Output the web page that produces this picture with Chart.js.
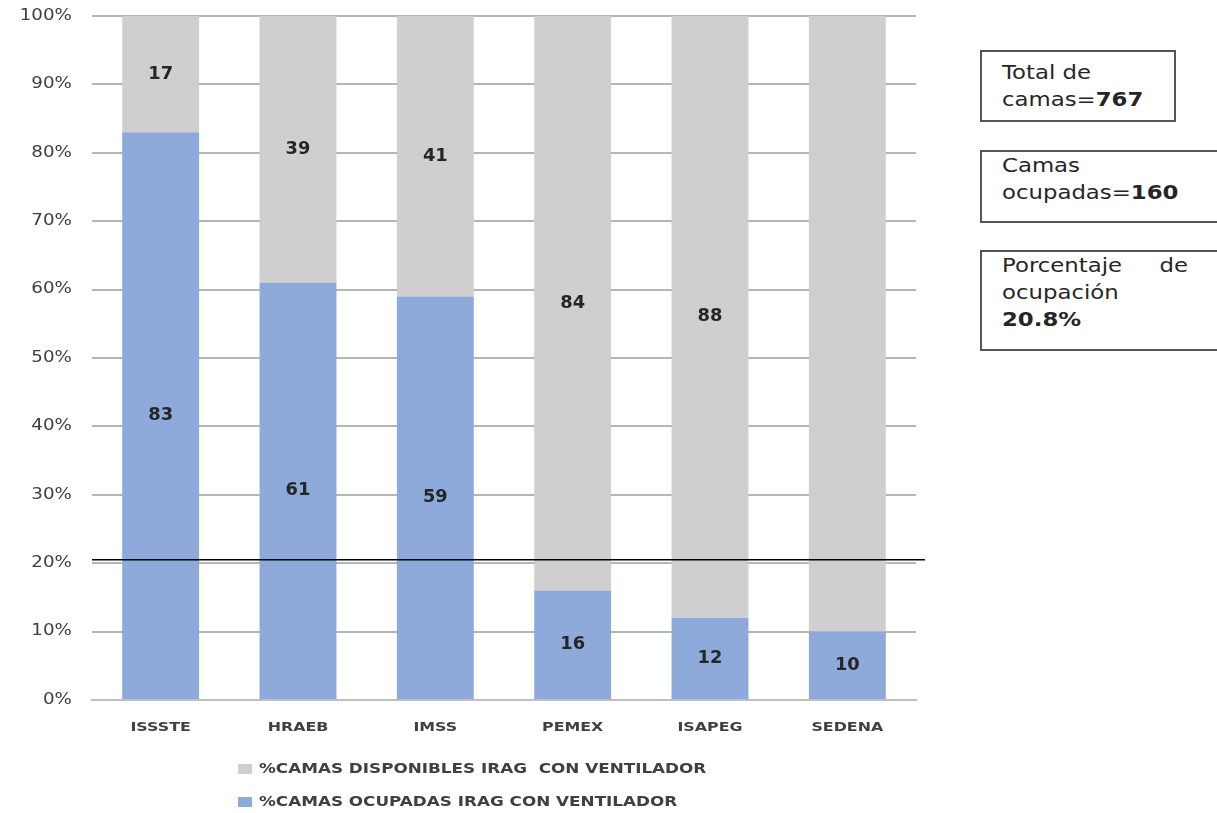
<!DOCTYPE html>
<html>
<head>
<meta charset="utf-8">
<script src="https://cdn.jsdelivr.net/npm/chart.js@4"></script>
<style>
  html, body { margin: 0; padding: 0; background: #fff; }
  #wrap { position: relative; width: 1217px; height: 813px; overflow: hidden; font-family: "DejaVu Sans", sans-serif; }
  canvas { position: absolute; left: 0; top: 0; }
  .box { position: absolute; border: 2px solid #555; background: #fff; color: #262626; font-size: 19px; line-height: 27px; padding: 0 0 0 20px; box-sizing: border-box; white-space: nowrap; }
  .wide { display: inline-block; transform: scaleX(1.2); transform-origin: 0 0; }
  .legend { position: absolute; left: 238px; font-size: 14px; line-height: 14px; color: #404040; font-weight: bold; white-space: nowrap; }
  .legend span.sw { display: inline-block; width: 14px; height: 10px; margin-right: 7px; vertical-align: -1px; }
</style>
</head>
<body>
<div id="wrap">
  <canvas id="chart" width="1217" height="813"></canvas>
  <div class="box" style="left:980px; top:50px; width:196px; height:72px; padding-top:7px;"><div class="wide">Total de<br>camas=<b>767</b></div></div>
  <div class="box" style="left:980px; top:150px; width:250px; height:73px;"><div class="wide">Camas<br>ocupadas=<b>160</b></div></div>
  <div class="box" style="left:980px; top:250px; width:250px; height:101px;">
    <div class="wide">
      <div style="width:155px; display:flex; justify-content:space-between;"><span>Porcentaje</span><span>de</span></div>
      ocupación<br><b>20.8%</b>
    </div>
  </div>
  <div class="legend" style="top:761px;"><span class="sw" style="background:#d0cece"></span><span class="wide">%CAMAS DISPONIBLES IRAG&nbsp; CON VENTILADOR</span></div>
  <div class="legend" style="top:794px;"><span class="sw" style="background:#8eaadb"></span><span class="wide">%CAMAS OCUPADAS IRAG CON VENTILADOR</span></div>
</div>
<script>
  const categories = ['ISSSTE', 'HRAEB', 'IMSS', 'PEMEX', 'ISAPEG', 'SEDENA'];
  const ocupadas = [83, 61, 59, 16, 12, 10];
  const disponibles = [17, 39, 41, 84, 88, 90];
  // SEDENA's grey segment carries no number in the original
  const disponiblesLabels = ['17', '39', '41', '84', '88', ''];
  const ocupadasLabels = ['83', '61', '59', '16', '12', '10'];
  const yTicks = [0, 10, 20, 30, 40, 50, 60, 70, 80, 90, 100];
  const occupancyLine = 20.5;

  const BLUE = '#8eaadb';
  const GREY = '#d0cece';
  const FONT = '"DejaVu Sans", sans-serif';
  const STRETCH = 1.22; // the source text is drawn wider than it is tall

  function wideText(ctx, text, x, y, align, sx) {
    ctx.save();
    ctx.translate(x, y);
    ctx.scale(sx, 1);
    ctx.textAlign = align;
    ctx.fillText(text, 0, 0);
    ctx.restore();
  }

  const axisLabels = {
    id: 'axisLabels',
    afterDraw(chart) {
      const { ctx, chartArea, scales } = chart;
      ctx.save();
      ctx.fillStyle = '#404040';
      ctx.textBaseline = 'middle';
      ctx.font = '15px ' + FONT;
      yTicks.forEach((v) => {
        wideText(ctx, v + '%', chartArea.left - 20, scales.y.getPixelForValue(v), 'right', STRETCH);
      });
      ctx.font = 'bold 13px ' + FONT;
      categories.forEach((c, i) => {
        wideText(ctx, c, scales.x.getPixelForValue(i), chartArea.bottom + 28, 'center', STRETCH);
      });
      ctx.restore();
    },
  };

  const valueLabels = {
    id: 'valueLabels',
    afterDatasetsDraw(chart) {
      const ctx = chart.ctx;
      ctx.save();
      ctx.font = 'bold 17px ' + FONT;
      ctx.fillStyle = '#262626';
      ctx.textBaseline = 'middle';
      chart.data.datasets.forEach((ds, di) => {
        const meta = chart.getDatasetMeta(di);
        meta.data.forEach((bar, i) => {
          const text = ds.valueLabels[i];
          if (!text) return;
          wideText(ctx, text, bar.x, (bar.y + bar.base) / 2, 'center', 1.05);
        });
      });
      ctx.restore();
    },
  };

  const refLine = {
    id: 'refLine',
    afterDatasetsDraw(chart) {
      const { ctx, chartArea } = chart;
      const y = chart.scales.y.getPixelForValue(occupancyLine);
      ctx.save();
      ctx.strokeStyle = '#000';
      ctx.lineWidth = 1.5;
      ctx.beginPath();
      ctx.moveTo(chartArea.left, y);
      ctx.lineTo(chartArea.right + 9, y);
      ctx.stroke();
      ctx.restore();
    },
  };

  new Chart(document.getElementById('chart'), {
    type: 'bar',
    data: {
      labels: categories,
      datasets: [
        { label: '%CAMAS OCUPADAS IRAG CON VENTILADOR', data: ocupadas, backgroundColor: BLUE, valueLabels: ocupadasLabels },
        { label: '%CAMAS DISPONIBLES IRAG  CON VENTILADOR', data: disponibles, backgroundColor: GREY, valueLabels: disponiblesLabels },
      ],
    },
    options: {
      responsive: false,
      animation: false,
      layout: { padding: { top: 16, right: 301, left: 0, bottom: 0 } },
      datasets: { bar: { categoryPercentage: 1, barPercentage: 0.56 } },
      plugins: { legend: { display: false }, tooltip: { enabled: false } },
      scales: {
        x: {
          stacked: true,
          grid: { display: false },
          border: { color: '#bfbfbf', width: 2 },
          ticks: { display: false },
          afterFit(s) { s.height = 113; s.paddingLeft = 0; s.paddingRight = 0; },
        },
        y: {
          stacked: true,
          min: 0,
          max: 100,
          afterBuildTicks(s) { s.ticks = yTicks.map((v) => ({ value: v })); },
          grid: { color: '#b5b5b5', lineWidth: 2, drawTicks: false },
          border: { display: false },
          ticks: { display: false },
          afterFit(s) { s.width = 92; s.paddingTop = 0; s.paddingBottom = 0; },
        },
      },
    },
    plugins: [valueLabels, refLine, axisLabels],
  });
</script>
</body>
</html>
